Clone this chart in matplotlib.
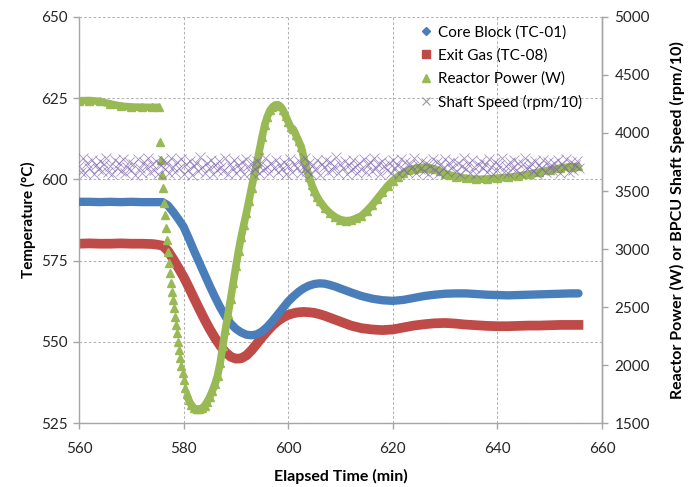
import numpy as np
import matplotlib
matplotlib.use("Agg")
import matplotlib.pyplot as plt

plt.rcParams['font.family'] = ['Lato', 'DejaVu Sans']

# temperatures (deg C)
temp_time = [560, 562, 564, 566, 568, 570, 572, 574, 575, 576, 577, 578, 579, 580,
             581, 582, 583, 584, 585, 586, 587, 588, 589, 590, 591, 592, 593, 594,
             595, 596, 597, 598, 599, 600, 601, 602, 603, 604, 605, 606, 607, 608,
             609, 610, 612, 614, 616, 618, 620, 622, 624, 626, 628, 630, 632, 634,
             636, 638, 640, 642, 644, 646, 648, 650, 652, 654, 655.5]
core_block = [593.1, 593.1, 593.0, 593.1, 593.0, 593.1, 593.0, 593.0, 593.0, 593.0, 592.0,
              590.0, 587.8, 585.4, 581.8, 578.0, 574.4, 570.8, 567.2, 563.8, 560.6, 557.8,
              555.6, 554.0, 552.9, 552.2, 552.0, 552.3, 553.2, 554.6, 556.4, 558.4, 560.4,
              562.4, 564.0, 565.4, 566.5, 567.3, 567.8, 568.0, 567.9, 567.5, 567.0, 566.4,
              565.2, 564.1, 563.3, 562.8, 562.6, 562.9, 563.5, 564.1, 564.5, 564.8, 564.9,
              564.9, 564.7, 564.5, 564.4, 564.3, 564.4, 564.5, 564.6, 564.7, 564.8, 564.9,
              564.9]
exit_gas = [580.2, 580.3, 580.2, 580.2, 580.3, 580.2, 580.2, 580.1, 579.9, 579.6, 578.0,
            575.5, 572.8, 570.0, 566.8, 563.4, 560.1, 556.9, 553.9, 551.2, 548.8, 546.8,
            545.4, 544.8, 544.9, 545.8, 547.4, 549.4, 551.4, 553.3, 555.0, 556.4, 557.5,
            558.3, 558.8, 559.1, 559.2, 559.1, 558.9, 558.5, 558.0, 557.4, 556.8, 556.2,
            555.0, 554.2, 553.8, 553.6, 553.8, 554.4, 555.0, 555.4, 555.7, 555.8, 555.6,
            555.3, 555.1, 554.9, 554.8, 554.8, 554.9, 555.0, 555.0, 555.1, 555.2, 555.2,
            555.2]

# reactor power (W), right axis
power_time = [560, 562, 564, 566, 568, 570, 572, 574, 575.3,
              575.4, 575.6, 575.8, 576.0, 576.2, 576.4, 576.6, 576.8, 577.0, 577.2,
              577.4, 577.6, 577.8, 578.0, 578.2, 578.4, 578.6, 578.8, 579.0, 579.2,
              579.4, 579.6, 579.8, 580.0, 580.3, 580.6, 581.0, 581.5, 582.0, 582.5,
              583.0, 583.5, 584.0, 584.5, 585.0, 585.5, 586.0, 586.5, 587.0, 587.5,
              588.0, 588.5, 589.0, 589.5, 590.0, 590.5, 591.0, 591.5, 592.0, 592.5,
              593.0, 593.5, 594.0, 594.5, 595.0, 595.5, 596.0, 596.5, 597.0, 597.5,
              598.0, 598.5, 599.0, 599.5, 600.0, 600.5, 601.0, 601.5, 602.0, 602.5,
              603.0, 603.5, 604.0, 604.5, 605.0, 605.5, 606.0, 607, 608, 609, 610,
              611, 612, 613, 614, 615, 616, 617, 618, 619, 620, 621, 622, 623, 624,
              625, 626, 627, 628, 629, 630, 631, 632, 634, 636, 638, 640, 642, 644,
              646, 648, 650, 652, 654, 655.5]
reactor_power = [4278, 4280, 4272, 4250, 4232, 4224, 4222, 4221, 4221,
                 3925, 3768, 3642, 3524, 3398, 3292, 3177, 3076, 2976, 2878,
                 2791, 2710, 2631, 2561, 2488, 2416, 2346, 2273, 2200, 2130,
                 2060, 1993, 1928, 1870, 1802, 1746, 1696, 1654, 1629, 1618,
                 1618, 1626, 1648, 1682, 1724, 1777, 1836, 1909, 2018, 2166,
                 2306, 2438, 2572, 2710, 2850, 2984, 3102, 3208, 3309, 3418,
                 3530, 3634, 3740, 3852, 3964, 4068, 4140, 4194, 4224, 4241,
                 4244, 4230, 4199, 4149, 4098, 4048, 4031, 3981, 3930, 3880,
                 3782, 3701, 3622, 3555, 3499, 3452, 3415, 3354, 3309, 3275, 3253,
                 3244, 3247, 3264, 3286, 3328, 3376, 3432, 3488, 3544, 3589, 3625,
                 3653, 3678, 3692, 3701, 3704, 3701, 3690, 3670, 3650, 3636, 3625,
                 3608, 3600, 3603, 3611, 3617, 3628, 3645, 3662, 3681, 3698, 3709,
                 3712]

# shaft speed (rpm/10), logged every 0.4 min from 560 min
shaft_start = 560.0
shaft_step = 0.4
shaft_speed = [
    3712, 3668, 3781, 3655, 3744, 3702, 3770, 3649, 3726, 3690, 3758, 3671,
    3735, 3786, 3660, 3718, 3647, 3763, 3696, 3741, 3674, 3779, 3652, 3707,
    3750, 3683, 3729, 3642, 3772, 3699, 3658, 3746, 3715, 3788, 3664, 3733,
    3677, 3756, 3644, 3721, 3767, 3690, 3739, 3653, 3784, 3708, 3662, 3748,
    3696, 3775, 3650, 3731, 3685, 3760, 3641, 3717, 3743, 3669, 3790, 3703,
    3657, 3738, 3694, 3766, 3646, 3724, 3680, 3755, 3711, 3673, 3783, 3648,
    3736, 3701, 3768, 3659, 3727, 3688, 3752, 3643, 3777, 3714, 3666, 3745,
    3692, 3759, 3654, 3732, 3679, 3785, 3706, 3651, 3740, 3697, 3769, 3661,
    3728, 3686, 3754, 3645, 3719, 3774, 3667, 3737, 3699, 3762, 3656, 3710,
    3781, 3675, 3742, 3650, 3723, 3693, 3765, 3641, 3734, 3706, 3771, 3663,
    3747, 3684, 3716, 3789, 3655, 3730, 3698, 3758, 3647, 3725, 3678, 3764,
    3704, 3652, 3739, 3687, 3776, 3661, 3720, 3749, 3670, 3785, 3695, 3733,
    3649, 3757, 3712, 3681, 3744, 3658, 3767, 3700, 3726, 3644, 3778, 3689,
    3753, 3668, 3736, 3705, 3786, 3653, 3722, 3690, 3761, 3675, 3741, 3646,
    3714, 3772, 3683, 3748, 3657, 3729, 3696, 3780, 3663, 3738, 3702, 3755,
    3671, 3743, 3650, 3717, 3784, 3686, 3734, 3659, 3769, 3707, 3648, 3726,
    3760, 3694, 3737, 3662, 3775, 3711, 3645, 3750, 3682, 3728, 3788, 3665,
    3719, 3656, 3746, 3698, 3764, 3677, 3740, 3652, 3731, 3783, 3688, 3709,
    3744, 3673, 3762, 3643, 3725, 3697, 3771, 3660, 3752, 3716, 3679, 3738,
    3692, 3766, 3654, 3733, 3707, 3779, 3668, 3747, 3685, 3721, 3758, 3700,
]

blue = '#4A7EBB'
red = '#BE4B48'
green = '#98B954'
purple = '#8066AE'
grey = '#A6A6A6'

fig = plt.figure(figsize=(6.88, 4.87), dpi=100)
ax = fig.add_axes([0.1148, 0.1314, 0.7602, 0.8337])
ax2 = ax.twinx()

ax.plot(temp_time, core_block, color=blue, lw=6, solid_capstyle='round', zorder=3)
ax.plot(temp_time, exit_gas, color=red, lw=7, solid_capstyle='projecting', zorder=2)

pt = np.array(power_time)
pw = np.array(reactor_power, dtype=float)
# the fast drop is logged sparsely, so only the triangles show there
pw_line = np.where((pt > 575.35) & (pt < 580.5), np.nan, pw)
ax2.plot(pt, pw_line, color=green, lw=5.5, solid_capstyle='butt')
ax2.plot(pt, pw, ls='none', marker='^', ms=5.5, color=green, mec=green)

st = shaft_start + shaft_step * np.arange(len(shaft_speed))
ax2.plot(st, shaft_speed, ls='none', marker='x', ms=7, mew=0.6, color=purple, alpha=0.7)

ax.set_xlim(560, 660)
ax.set_ylim(525, 650)
ax.set_xticks(np.arange(560, 661, 20))
ax.set_yticks(np.arange(525, 651, 25))
ax2.set_ylim(1500, 5000)
ax2.set_yticks(np.arange(1500, 5001, 500))

ax.grid(True, color='#b3b3b3', ls=(0, (2.5, 2)), lw=0.75)
ax.set_axisbelow(True)

for a in (ax, ax2):
    a.spines['top'].set_visible(False)
    for s in a.spines.values():
        s.set_color(grey)
        s.set_linewidth(1.0)
    a.tick_params(colors=grey, labelcolor='#262626', labelsize=11, length=4, width=1)
ax2.spines['left'].set_visible(False)
ax2.spines['bottom'].set_visible(False)
ax.tick_params(axis='x', pad=10)
ax.tick_params(axis='y', pad=4)
ax2.tick_params(axis='y', pad=5)

ax.set_xlabel('Elapsed Time (min)', fontsize=11.5, fontweight='bold', labelpad=9)
ax.set_ylabel('Temperature (\u00b0C)', fontsize=11, fontweight='bold', labelpad=4)
ax2.set_ylabel('Reactor Power (W) or BPCU Shaft Speed (rpm/10)', fontsize=11.5,
               fontweight='bold', labelpad=14)

handles = [
    plt.Line2D([], [], ls='none', marker='D', ms=4.5, color=blue),
    plt.Line2D([], [], ls='none', marker='s', ms=6, color=red),
    plt.Line2D([], [], ls='none', marker='^', ms=6, color=green),
    plt.Line2D([], [], ls='none', marker='x', ms=6, mew=0.8, color='#9a9a9a'),
]
labels = ['Core Block (TC-01)', 'Exit Gas (TC-08)', 'Reactor Power (W)', 'Shaft Speed (rpm/10)']
ax2.legend(handles, labels, loc='upper left', bbox_to_anchor=(0.652, 0.98),
           frameon=False, fontsize=11, handlelength=0.8, handletextpad=0.35,
           labelspacing=0.58, borderpad=0, borderaxespad=0)

fig.savefig('out.png', dpi=100)
